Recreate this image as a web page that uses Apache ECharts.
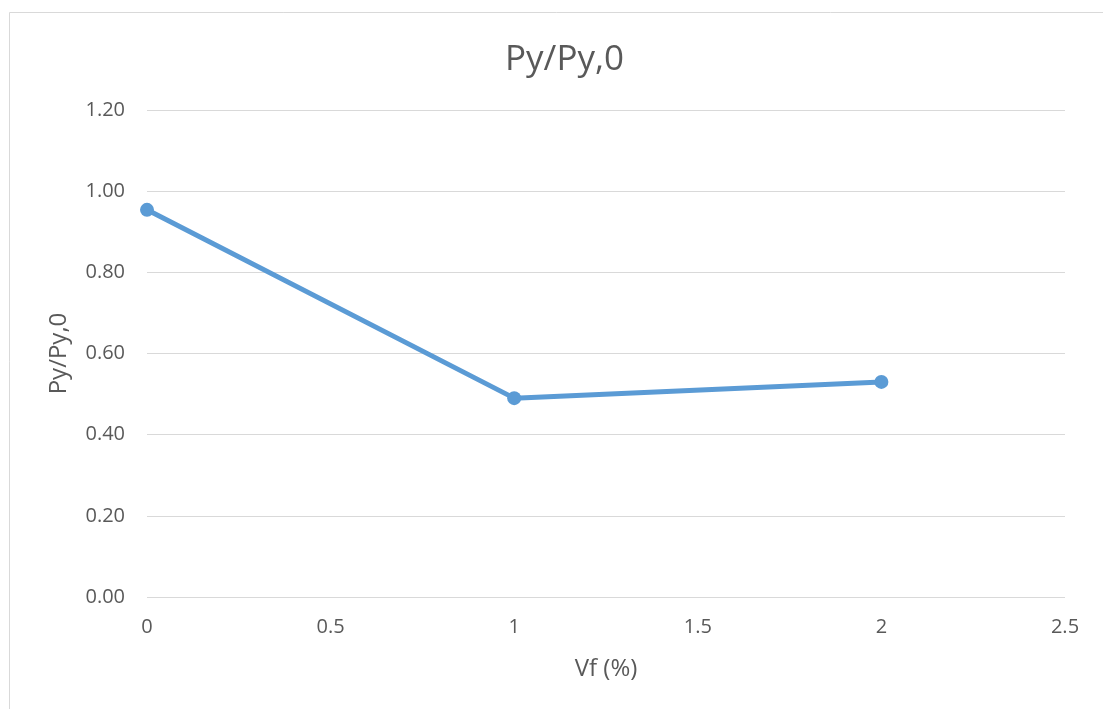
<!DOCTYPE html>
<html><head><meta charset="utf-8">
<script src="https://cdn.jsdelivr.net/npm/echarts@6/dist/echarts.min.js"></script>
<style>html,body{margin:0;padding:0;background:#fff}#c{width:1103px;height:709px}</style>
</head><body><div id="c"></div>
<script>
const xValues = [0, 1, 2];
const yValues = [0.954, 0.490, 0.530];
const titleText = 'Py/Py,0';
const xAxisName = 'Vf (%)';
const yAxisName = 'Py/Py,0';

const chart = echarts.init(document.getElementById('c'), null, {renderer: 'canvas'});
const font = '"Open Sans", "Liberation Sans", sans-serif';
chart.setOption({
  animation: false,
  backgroundColor: '#fff',
  title: {text: titleText, left: 500, top: 38, textStyle: {fontFamily: font, fontSize: 35, fontWeight: 'normal', color: '#595959'}},
  graphic: [{type: 'rect', shape: {x: 9.5, y: 12.5, width: 1200, height: 800}, style: {fill: 'none', stroke: '#d9d9d9', lineWidth: 1}, silent: true}],
  grid: {left: 147, right: 38, top: 110, bottom: 112},
  xAxis: {
    type: 'value', min: 0, max: 2.5, interval: 0.5,
    name: xAxisName, nameLocation: 'middle', nameGap: 60,
    nameTextStyle: {fontFamily: font, fontSize: 24, color: '#595959'},
    axisLine: {show: false}, axisTick: {show: false}, splitLine: {show: false},
    axisLabel: {fontFamily: font, fontSize: 20, color: '#595959', margin: 20}
  },
  yAxis: {
    type: 'value', min: 0, max: 1.2, interval: 0.2,
    name: yAxisName, nameLocation: 'middle', nameGap: 76,
    nameTextStyle: {fontFamily: font, fontSize: 24, color: '#595959'},
    axisLine: {show: false}, axisTick: {show: false},
    splitLine: {lineStyle: {color: '#d9d9d9', width: 1}},
    axisLabel: {fontFamily: font, fontSize: 20, color: '#595959', margin: 22, formatter: v => v.toFixed(2)}
  },
  series: [{
    type: 'line', data: xValues.map((x, i) => [x, yValues[i]]),
    symbol: 'circle', symbolSize: 14,
    lineStyle: {color: '#5b9bd5', width: 5},
    itemStyle: {color: '#5b9bd5'}
  }]
});
</script></body></html>
